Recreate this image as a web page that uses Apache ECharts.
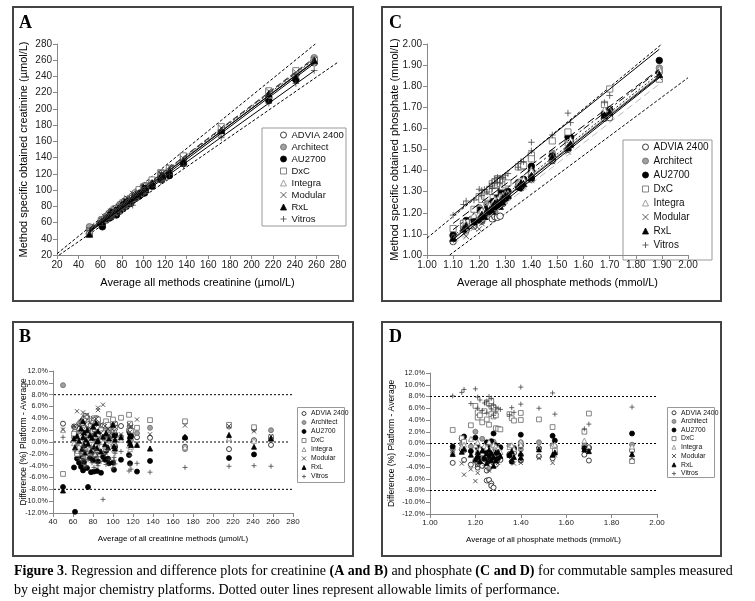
<!DOCTYPE html>
<html><head><meta charset="utf-8">
<script src="https://cdn.jsdelivr.net/npm/echarts@6/dist/echarts.min.js"></script>
<style>html,body{margin:0;padding:0;background:#fff}#c{width:755px;height:601px}</style>
</head><body><div id="c"></div>
<script>
// ---------------- DATA ----------------
const platforms = ['ADVIA 2400','Architect','AU2700','DxC','Integra','Modular','RxL','Vitros'];

// Creatinine: sample averages (µmol/L) and per-platform difference (%) from the average
const creaX = [50,61,62,64,66,68,69,70, 70,71,71,72,73,74,75,77, 78,79,80,81,82,83,84,84, 85,85,88,90,92,93,95,96, 100,101,101,102,102,108,116,117, 117,118,124,137,172,216,241,258];
const creaAdvia = [3.1,2.6,1.8,0.9,2.2,3.4,1.2,2.8, 0.5,1.9,3.9,2.4,1.1,4.2,0.2,2.9, 1.6,3.2,0.8,2.5,1.4,3.6,4.0,0.6, 2.1,3.0,1.3,2.8,0.4,2.0,1.5,2.6, 0.9,2.4,-0.6,3.1,1.0,2.7,1.8,0.7, 2.2,1.2,0.8,0.7,-0.8,-1.2,0.3,-0.5];
const creaArchitect = [9.6,0.8,2.5,1.4,3.1,0.6,2.7,1.5, 3.6,0.2,2.1,4.3,1.0,-0.4,2.8,1.8, 3.3,0.9,2.4,1.2,4.0,0.5,2.9,1.7, -0.3,3.5,2.2,1.0,2.6,0.4,1.9,2.3, 1.6,0.1,2.9,1.3,-0.6,0.9,2.1,2.8, 1.4,0.3,1.5,2.4,-1.2,2.6,2.2,2.0];
const creaAU2700 = [-7.6,-4.3,-11.8,-2.8,-3.5,-4.2,-2.5,-4.8, 3.8,-3.4,1.2,-0.6,2.4,-4.4,-7.6,-2.7, -5.1,-1.6,-3.1,-5.0,-2.2,2.9,-4.9,0.6, -1.4,-3.3,-5.2,-2.5,-3.0,-1.5,-2.8,-3.6, -3.5,2.8,-4.7,-0.9,1.3,-3.0,-2.2,1.5, -3.6,0.9,-5.0,-3.2,0.7,-2.7,-2.1,0.7];
const creaDxC = [-5.4,1.4,2.6,-2.0,0.8,1.0,3.2,2.4, 0.2,3.9,1.7,2.1,4.4,1.5,3.0,0.7, 2.7,3.6,1.9,4.0,2.2,3.1,0.9,2.5, 1.3,3.8,2.0,1.5,2.8,3.5,2.9,4.7, 3.8,2.6,1.9,3.0,2.4,4.1,4.6,2.8, 3.1,1.9,2.4,3.7,3.5,2.9,2.5,0.8];
const creaIntegra = [2.0,-0.2,0.6,-1.5,-0.8,0.3,-1.8,0.9, -0.4,1.2,-2.3,0.1,-1.0,0.7,-0.6,-1.9, 0.4,-1.2,-0.3,1.0,-2.0,-0.5,0.2,-1.4, -0.9,0.5,-1.6,0.0,-0.7,-1.1,0.6,-0.4, 0.3,-1.3,-0.2,0.8,-0.9,0.4,-0.6,-1.2, 0.1,-0.8,-0.3,-1.1,-0.9,0.6,0.2,0.5];
const creaModular = [2.1,2.7,2.6,5.2,2.7,3.4,1.3,5.0, 2.0,4.3,0.8,3.0,1.6,4.6,2.2,3.3, 1.1,2.8,4.0,1.6,2.4,3.9,1.8,3.2, 5.4,5.8,1.5,6.3,2.7,1.0,2.2,1.2, 2.9,3.1,1.9,0.6,2.5,1.3,3.0,2.5, 1.7,2.6,3.8,1.3,2.8,2.7,1.8,1.0];
const creaRxL = [-8.2,0.6,-0.9,1.0,0.2,2.3,-1.2,3.5, 0.8,-0.5,1.6,-1.8,0.4,2.0,-0.3,1.1, -1.5,0.7,2.6,-0.8,1.3,3.2,0.1,-1.0, 1.8,0.3,-1.6,0.9,-0.4,1.5,-0.9,0.6, 2.9,-0.7,1.2,0.4,-1.1,0.8,0.3,-0.2, 1.0,-0.5,-0.5,-1.1,0.9,1.2,-0.8,0.6];
const creaVitros = [0.8,2.6,-1.5,-0.5,-2.8,-1.9,-3.2,-0.7, -2.4,-3.8,-1.2,-2.9,-4.1,-1.6,-3.0,-2.2, -0.9,-3.5,-2.0,-4.3,-1.3,-2.7,-3.6,-1.8, -2.5,-4.0,-3.3,-9.7,-2.1,-3.8,-1.4,-2.9, -4.4,-2.6,-3.1,-1.9,-3.7,-1.6,-4.9,-3.9, -2.3,-4.6,-3.6,-5.1,-4.3,-4.1,-4.0,-4.1];

// Phosphate: sample averages (mmol/L) and per-platform difference (%)
const phosX = [1.10,1.14,1.15,1.18,1.20,1.21,1.21,1.22, 1.23,1.24,1.25,1.25,1.26,1.26,1.27,1.27, 1.28,1.28,1.29,1.29,1.30,1.31,1.35,1.36, 1.37,1.40,1.40,1.48,1.54,1.55,1.68,1.70, 1.89];
const phosAdvia = [-3.3,-1.0,-2.8,-3.6,-2.9,-4.1,-3.5,-2.2, -3.8,-2.6,-4.6,-6.3,-6.2,-3.0,-6.8,-7.2, -7.5,-3.3,-2.4,-3.6,-2.0,-2.8,-1.8,-2.3, -1.6,-2.0,-2.9,-2.2,-2.5,-1.6,-1.9,-2.9, -1.2];
const phosArchitect = [-1.0,-0.1,-1.2,-0.5,2.0,-3.2,-0.8,-2.7, 0.8,-1.6,-2.2,-0.4,-4.3,-1.1,-0.2,-2.0, -1.4,0.3,-2.5,-0.9,-1.3,-0.6,-0.4,-1.8, -0.7,0.2,-1.0,0.2,-0.3,-0.5,-0.4,-0.6, -0.2];
const phosAU2700 = [-0.5,0.8,1.2,-1.3,1.0,-2.4,-0.6,-1.8, -1.0,-2.6,0.2,-1.5,-0.8,-2.9,0.4,-1.2, 1.7,-2.1,-0.3,-1.6,-2.5,-0.7,-2.0,-3.1, -0.9,-0.4,1.5,-0.8,1.3,0.5,-0.8,-0.8, 1.7];
const phosDxC = [2.3,0.9,0.3,3.1,6.4,5.3,4.4,4.8, 3.6,5.5,7.0,4.1,3.2,6.8,5.0,7.2, 4.6,6.1,4.8,2.6,2.5,2.4,5.0,4.3, 3.9,5.2,4.0,4.1,2.8,-1.2,2.0,5.1, -3.0];
const phosIntegra = [-1.5,-0.5,-0.2,0.8,-0.3,-1.2,0.2,-0.9, -1.6,-0.4,-2.0,-0.7,0.3,-1.3,-0.6,-1.0, -0.2,-1.8,-0.5,-1.1,-0.8,-1.4,-0.6,-0.3, -0.9,0.3,-0.2,-0.6,-0.4,-0.2,0.5,-0.5, -0.5];
const phosModular = [-1.2,-3.4,-5.3,-4.4,-6.4,-3.8,-5.0,-2.9, -3.2,-4.0,-2.6,-3.5,-2.3,-4.6,-2.1,-3.0, -2.4,-3.6,-1.9,-2.8,-3.3,-2.2,-2.0,-2.6, -3.4,-3.3,-2.9,-2.5,-3.3,-2.0,-0.9,-1.2, -2.5];
const phosRxL = [-1.8,-1.4,-0.9,-1.9,-2.7,-1.5,-2.2,-3.0, -1.2,-2.4,-1.7,-3.3,-2.0,-1.1,-2.8,-1.6, -3.8,-2.3,-1.5,-2.9,-1.4,-2.1,-1.9,-1.3, -2.3,-1.7,-2.4,-1.0,-1.9,-1.5,-1.0,-1.3, -1.8];
const phosVitros = [8.1,8.7,9.2,6.8,9.3,7.9,6.0,7.4, 5.6,6.9,7.2,5.2,8.0,6.4,7.7,5.9, 6.6,4.8,6.1,5.4,6.0,5.8,4.9,6.1, 5.3,9.6,6.7,6.0,8.6,5.0,2.5,3.3, 6.2];

// Regression lines (per platform, read at the ends of the data range)
const creaFitX = [50, 258];
const creaFitY0 = [51.5, 53, 48, 53, 50.5, 52.5, 50, 49];
const creaFitY1 = [258, 263, 256, 262, 259, 261, 258.5, 247];
const phosFitX = [1.10, 1.89];
const phosFitY0 = [1.05, 1.09, 1.12, 1.15, 1.08, 1.06, 1.075, 1.19];
const phosFitY1 = [1.81, 1.86, 1.875, 1.88, 1.85, 1.84, 1.845, 1.975];

// Allowable limits
const creaLimitUpper = [[20, 21.6], [259, 280]];
const creaLimitLower = [[22, 20], [280, 257.6]];
const phosLimitUpper = [[1.00, 1.08], [1.90, 2.00]];
const phosLimitLower = [[1.087, 1.00], [2.00, 1.84]];
const diffLimits = [8, 0, -8];

// ---------------- STYLES ----------------
const F = 'Liberation Sans, Arial, sans-serif';
const SERIF = 'Liberation Serif, Times New Roman, serif';
const marks = [
  {symbol:'circle', color:'#fff', border:'#111', k:1},
  {symbol:'circle', color:'#a0a0a0', border:'#6a6a6a', k:1},
  {symbol:'circle', color:'#000', border:'#000', k:1},
  {symbol:'rect', color:'#fff', border:'#666', k:0.95},
  {symbol:'triangle', color:'#fff', border:'#888', k:1},
  {symbol:'path://M0,0L10,10M10,0L0,10', color:'none', border:'#333', k:0.85},
  {symbol:'triangle', color:'#000', border:'#000', k:1},
  {symbol:'path://M5,0L5,10M0,5L10,5', color:'none', border:'#444', k:1}
];
const creaFitStyle = [
  {c:'#000', t:'solid'}, {c:'#333', t:[6,3]}, {c:'#000', t:'solid'}, {c:'#444', t:[6,3]},
  {c:'#777', t:'solid'}, {c:'#333', t:[2,2]}, {c:'#000', t:'solid'}, {c:'#000', t:'solid'}
];
const phosFitStyle = [
  {c:'#bbb', t:[7,4]}, {c:'#222', t:[2,2]}, {c:'#000', t:[7,3,2,3]}, {c:'#000', t:[8,4]},
  {c:'#777', t:'solid'}, {c:'#000', t:'solid'}, {c:'#000', t:'solid'}, {c:'#000', t:'solid'}
];

const creaDiffs = [creaAdvia, creaArchitect, creaAU2700, creaDxC, creaIntegra, creaModular, creaRxL, creaVitros];
const phosDiffs = [phosAdvia, phosArchitect, phosAU2700, phosDxC, phosIntegra, phosModular, phosRxL, phosVitros];

function scatter(gi, xs, arrs, abs, size) {
  return arrs.map((arr, k) => ({
    type:'scatter', name: platforms[k], xAxisIndex: gi, yAxisIndex: gi,
    symbol: marks[k].symbol, symbolSize: size * marks[k].k,
    itemStyle: {color: marks[k].color, borderColor: marks[k].border, borderWidth: 0.8, opacity: 1},
    data: xs.map((x, i) => abs ? [x, +(x * (1 + arr[i] / 100)).toFixed(4)] : [x, arr[i]]),
    z: 3, silent: true
  }));
}
function seg(gi, data, color, type, name, z) {
  return {type:'line', name: name, xAxisIndex: gi, yAxisIndex: gi, data: data, symbol:'none',
    lineStyle:{color: color, width: 1, type: type}, z: z || 4, silent: true, clip: false};
}

const series = [];
series.push(...scatter(0, creaX, creaDiffs, true, 6.5));
series.push(...scatter(1, phosX, phosDiffs, true, 6.5));
series.push(...scatter(2, creaX, creaDiffs, false, 5));
series.push(...scatter(3, phosX, phosDiffs, false, 5));
platforms.forEach((p, k) => {
  series.push(seg(0, [[creaFitX[0], creaFitY0[k]], [creaFitX[1], creaFitY1[k]]], creaFitStyle[k].c, creaFitStyle[k].t, 'fitA' + k));
  series.push(seg(1, [[phosFitX[0], phosFitY0[k]], [phosFitX[1], phosFitY1[k]]], phosFitStyle[k].c, phosFitStyle[k].t, 'fitC' + k));
});
series.push(seg(0, creaLimitUpper, '#000', [3,2], 'limA1', 2));
series.push(seg(0, creaLimitLower, '#000', [3,2], 'limA2', 2));
series.push(seg(1, phosLimitUpper, '#000', [3,2], 'limC1', 2));
series.push(seg(1, phosLimitLower, '#000', [3,2], 'limC2', 2));
diffLimits.forEach((v, i) => {
  series.push(seg(2, [[37, v], [v === 0 ? 277 : 289, v]], '#000', [2,2], 'limB' + i, 2));
  series.push(seg(3, [[1.00, v], [2.05, v]], '#000', [2,2], 'limD' + i, 2));
});

function xAx(gi, min, max, interval, name, gap, fs, nfs, dec) {
  return {gridIndex: gi, type:'value', min:min, max:max, interval:interval, name:name,
    nameLocation:'middle', nameGap:gap, nameMoveOverlap:false, nameTextStyle:{fontSize:nfs, color:'#000', fontFamily:F},
    axisLine:{onZero:false, lineStyle:{color:'#888', width:1}},
    axisTick:{length:4, lineStyle:{color:'#888'}},
    axisLabel:{fontSize:fs, color:'#222', fontFamily:F, margin:5,
      formatter: v => dec == null ? String(Math.round(v)) : (+v).toFixed(dec)},
    splitLine:{show:false}};
}
function yAx(gi, min, max, interval, name, gap, fs, nfs, fmt) {
  return {gridIndex: gi, type:'value', min:min, max:max, interval:interval, name:name,
    nameLocation:'middle', nameGap:gap, nameRotate:90, nameMoveOverlap:false, nameTextStyle:{fontSize:nfs, color:'#000', fontFamily:F},
    axisLine:{show:true, onZero:false, lineStyle:{color:'#888', width:1}},
    axisTick:{show:true, length:4, lineStyle:{color:'#888'}},
    axisLabel:{fontSize:fs, color:'#222', fontFamily:F, margin:5, formatter: fmt},
    splitLine:{show:false}};
}
const pct = v => (+v).toFixed(1) + '%';

function legend(left, top, fs, lh, icon) {
  return {data: platforms, left:left, top:top, orient:'vertical', itemWidth:icon, itemHeight:icon, itemGap:0,
    padding:0, selectedMode:false, itemStyle:{borderWidth:0.8},
    textStyle:{fontSize:fs, lineHeight:lh, color:'#111', fontFamily:F}};
}

function box(x, y, w, h, stroke, lw) {
  return {type:'rect', shape:{x:x, y:y, width:w, height:h}, style:{fill:'none', stroke:stroke, lineWidth:lw}, silent:true, z:0};
}
function letter(x, y, t) {
  return {type:'text', x:x, y:y, style:{text:t, font:'bold 18px ' + SERIF, fill:'#000', textAlign:'left', textVerticalAlign:'middle'}, z:10};
}

const option = {
  animation:false,
  grid:[
    {left:57, top:44, width:281, height:211, outerBoundsMode:'none'},
    {left:427, top:44, width:261, height:211, outerBoundsMode:'none'},
    {left:53, top:371, width:240, height:142, outerBoundsMode:'none'},
    {left:430, top:373, width:227, height:141, outerBoundsMode:'none'}
  ],
  xAxis:[
    xAx(0, 20, 280, 20, 'Average all methods creatinine (µmol/L)', 22, 10, 11),
    xAx(1, 1.00, 2.00, 0.10, 'Average all phosphate methods (mmol/L)', 22, 10, 11, 2),
    xAx(2, 40, 280, 20, 'Average of all creatinine methods (µmol/L)', 22, 8, 8),
    xAx(3, 1.00, 2.00, 0.20, 'Average of all phosphate methods (mmol/L)', 22, 8, 8, 2)
  ],
  yAxis:[
    yAx(0, 20, 280, 20, 'Method specific obtained creatinine (µmol/L)', 28, 10, 11, v => String(Math.round(v))),
    yAx(1, 1.00, 2.00, 0.10, 'Method specific obtained phosphate (mmol/L)', 27, 10, 11, v => (+v).toFixed(2)),
    yAx(2, -12, 12, 2, 'Difference (%) Platform - Average', 25, 7.2, 8.5, pct),
    yAx(3, -12, 12, 2, 'Difference (%) Platform - Average', 34, 7.2, 8.5, pct)
  ],
  legend:[
    legend(278, 129, 9.5, 12, 6),
    legend(640, 140, 10, 14, 6),
    legend(299.5, 409, 6.8, 9, 4),
    legend(669.5, 408.5, 6.8, 8.6, 4)
  ],
  graphic:[
    box(13, 7, 340, 294, '#444', 2),
    box(382, 7, 339, 294, '#444', 2),
    box(13, 322, 340, 234, '#444', 2),
    box(382, 322, 339, 234, '#444', 2),
    box(262, 128, 84, 98, '#999', 1),
    box(623, 140, 89, 120, '#999', 1),
    box(297.5, 407.5, 47, 75, '#999', 1),
    box(667.5, 407.5, 47, 70, '#999', 1),
    letter(19, 23, 'A'), letter(389, 23, 'C'), letter(19, 337, 'B'), letter(389, 337, 'D'),
    {type:'text', x:14, y:571, style:{
      text:'{b|Figure 3}. Regression and difference plots for creatinine {b|(A and B)} and phosphate {b|(C and D)} for commutable samples measured',
      rich:{b:{fontWeight:'bold', fontSize:14, fontFamily:SERIF, fill:'#000'}},
      fontSize:14, fontFamily:SERIF, fill:'#000', textVerticalAlign:'middle'}, z:10},
    {type:'text', x:14, y:590, style:{
      text:'by eight major chemistry platforms. Dotted outer lines represent allowable limits of performance.',
      fontSize:14, fontFamily:SERIF, fill:'#000', textVerticalAlign:'middle'}, z:10}
  ],
  series: series
};
const chart = echarts.init(document.getElementById('c'), null, {renderer:'canvas'});
chart.setOption(option);
</script></body></html>
